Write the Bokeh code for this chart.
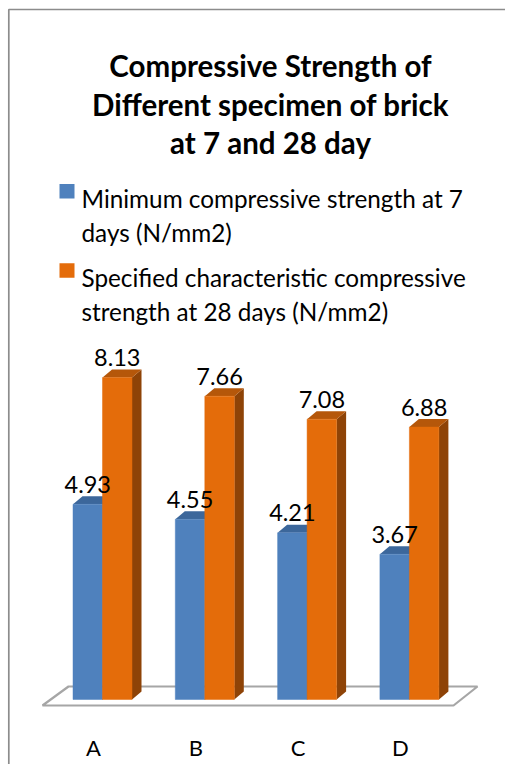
from bokeh.plotting import figure
from bokeh.models import Range1d, ColumnDataSource
from bokeh.embed import file_html
from bokeh.resources import INLINE
from bokeh.core.properties import value

# ---------------- data ----------------
categories = ["A", "B", "C", "D"]
min_7day = [4.93, 4.55, 4.21, 3.67]
spec_28day = [8.13, 7.66, 7.08, 6.88]
series_labels = [
    ["Minimum compressive strength at 7", "days (N/mm2)"],
    ["Specified characteristic compressive", "strength at 28 days (N/mm2)"],
]
title_lines = ["Compressive Strength of", "Different specimen of brick", "at 7 and 28 day"]

# ---------------- style / layout ----------------
W, H = 505, 764
PPU = 39.6          # px per N/mm2
GPX = 102.3         # px per category
BASE = 699          # px (from top) of bar base
X0 = 102            # px of first group centre
BAR_PX = 29.5
DX_PX, DY_PX = 9.5, 8.0
FONT = value("Lato")

BLUE, BLUE_TOP, BLUE_SIDE = "#4F81BD", "#3C679B", "#2F5280"
ORANGE, ORANGE_TOP, ORANGE_SIDE = "#E46C0A", "#B5570A", "#8E4307"
GRID = "#A6A6A6"

xs, xe = -X0 / GPX, (W - X0) / GPX
ys, ye = -(H - BASE) / PPU, BASE / PPU


def X(px):
    return xs + px / GPX


def Y(py):
    return ye - py / PPU


p = figure(width=W, height=H, x_range=Range1d(xs, xe), y_range=Range1d(ys, ye),
           output_backend="svg", toolbar_location=None, min_border=0)
p.axis.visible = False
p.grid.visible = False
p.outline_line_color = None
p.background_fill_color = "white"
p.border_fill_color = "white"

# outer chart border (only left & top fall inside the picture)
p.quad(left=[X(8.3)], right=[X(W + 30)], top=[Y(9)], bottom=[Y(H + 30)],
       fill_color=None, line_color="#8C8C8C", line_width=1.7)

# title
for i, t in enumerate(title_lines):
    p.text(x=[X(270)], y=[Y(65 + 38.7 * i)], text=[t], text_font=FONT,
           text_font_style="bold", text_font_size="29.5px", text_align="center",
           text_baseline="alphabetic", text_color="black")

# legend
for k, (lines, col) in enumerate(zip(series_labels, [BLUE, ORANGE])):
    base = 198 + 79.3 * k
    p.quad(left=[X(59)], right=[X(74)], top=[Y(base - 14.5)], bottom=[Y(base)],
           fill_color=col, line_color=None)
    for j, t in enumerate(lines):
        p.text(x=[X(81)], y=[Y(base + 33.5 * j)], text=[t], text_font=FONT,
               text_font_size="24.3px", text_align="left", text_baseline="alphabetic",
               text_color="black")

# floor
fl_x = [X(42), X(453), X(477), X(68)]
fl_y = [Y(705), Y(705), Y(686), Y(686)]
p.patch(fl_x, fl_y, fill_color="white", line_color=GRID, line_width=2.2)

bw = BAR_PX / GPX
dx = DX_PX / GPX
dy = DY_PX / PPU

lab_x, lab_y, lab_t = [], [], []
for i, cat in enumerate(categories):
    c = float(i)
    for vals, left, front, top, side in [
        (min_7day, c - bw, BLUE, BLUE_TOP, BLUE_SIDE),
        (spec_28day, c, ORANGE, ORANGE_TOP, ORANGE_SIDE),
    ]:
        v = vals[i]
        r = left + bw
        p.patch([r, r + dx, r + dx, r], [0, dy, v + dy, v], fill_color=side, line_color=None)
        p.patch([left, r, r + dx, left + dx], [v, v, v + dy, v + dy], fill_color=top, line_color=None)
        p.quad(left=[left], right=[r], bottom=[0], top=[v], fill_color=front,
               line_color=front, line_alpha=0.6, line_width=0.8)
        lab_x.append(left + bw / 2)
        lab_y.append(v + 20 / PPU)
        lab_t.append(f"{v:.2f}")

p.text(x=lab_x, y=lab_y, text=lab_t, text_font=FONT, text_font_size="23.5px",
       text_align="center", text_baseline="alphabetic", text_color="black")

# category labels
src = ColumnDataSource(dict(x=[i - 9 / GPX for i in range(len(categories))],
                            y=[Y(747)] * len(categories), t=categories))
p.text(x="x", y="y", text="t", source=src, text_font=FONT, text_font_size="22px",
       text_align="center", text_baseline="alphabetic", text_color="black")

open("out.html", "w").write(file_html(p, INLINE))
